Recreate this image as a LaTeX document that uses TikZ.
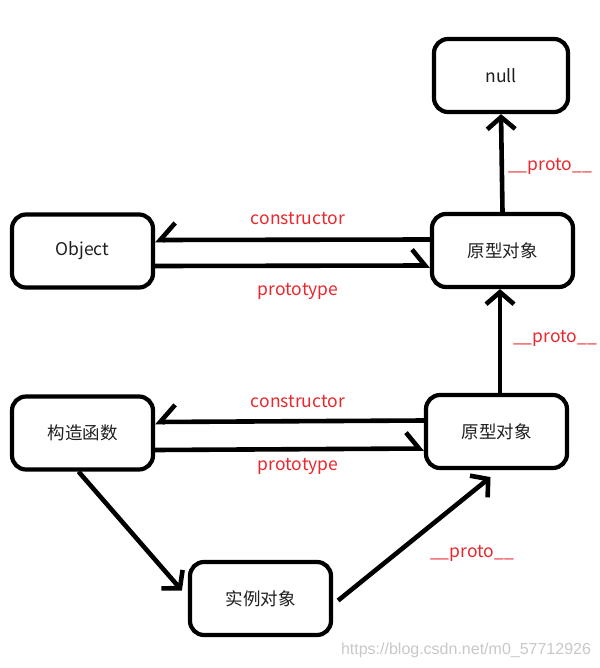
\documentclass[tikz,border=0pt]{standalone}
\usepackage{fontspec}
\usepackage{xcolor}
\usepackage{tikz}
\usetikzlibrary{arrows.meta}
\setmainfont{Noto Sans CJK SC}
\newfontfamily\wmfont{Liberation Sans}
\definecolor{myred}{RGB}{232,40,46}
\definecolor{mygray}{RGB}{200,200,200}
\definecolor{mytext}{RGB}{30,30,30}
\tikzset{
    objbox/.style={draw, line width=4.2pt, rounded corners=14pt, minimum width=141pt,
      minimum height=73pt, inner sep=0pt, text=mytext, font=\fontsize{17.5}{19}\selectfont},
    link/.style={line width=4.6pt},
    fullhead/.style={-{Straight Barb[length=12pt,width=28pt]}},
    halfup/.style={-{Straight Barb[length=15pt,width=34pt,harpoon,swap]}},
    halfdown/.style={-{Straight Barb[length=13pt,width=32pt,harpoon]}},
    lbl/.style={myred, font=\fontsize{17.5}{19}\selectfont, inner sep=0pt},
}
\begin{document}
\begin{tikzpicture}[x=1pt,y=-1pt]
  \useasboundingbox (0,0) rectangle (599,668);
  % boxes
  \node[objbox, minimum width=134pt] (null) at (501,75.5) {null};
  \node[objbox] (protoA) at (502.5,250.5) {原型对象};
  \node[objbox] (obj) at (82.5,251) {Object};
  \node[objbox] (ctor) at (82.5,433) {构造函数};
  \node[objbox] (protoB) at (496.5,431.5) {原型对象};
  \node[objbox] (inst) at (260.5,598.5) {实例对象};
  % upper pair: Object <-> prototype object
  \draw[link, halfup] ([yshift=11pt]protoA.west) -- ([yshift=11pt]obj.east);
  \draw[link, halfdown] ([yshift=-15pt]obj.east) -- ([yshift=-15pt]protoA.west);
  % lower pair: constructor <-> prototype object
  \draw[link, halfup] ([yshift=11pt]protoB.west) -- ([yshift=11pt]ctor.east);
  \draw[link, halfdown] ([yshift=-17pt]ctor.east) -- ([yshift=-17pt]protoB.west);
  % proto chain
  \draw[link, fullhead] (protoA.north) -- (null.south);
  \draw[link, fullhead] ([xshift=3.5pt]protoB.north) -- ([xshift=-2.5pt]protoA.south);
  \draw[link, fullhead] ([xshift=-4pt]ctor.south) -- ([xshift=-6pt,yshift=8pt]inst.west);
  \draw[link, fullhead] ([xshift=5pt,yshift=-2pt]inst.east) -- ([xshift=-6pt,yshift=-7pt]protoB.south);
  % LABELS
  \node[lbl] (lc1) at (298,219) {constructor};
  \node[lbl] (lp1) at (298,291) {prototype};
  \node[lbl] (lc2) at (298,402) {constructor};
  \node[lbl] (lp2) at (298,466) {prototype};
  \node[lbl] (lnull) at (550,166) {\_\_proto\_\_};
  \node[lbl] (lmid) at (555,338) {\_\_proto\_\_};
  \node[lbl] (linst) at (472,553) {\_\_proto\_\_};
  \node[mygray, font=\wmfont\fontsize{16}{18}\selectfont, inner sep=0pt] (wm) at (466,650)
    {https://blog.csdn.net/m0\_57712926};
\end{tikzpicture}
\end{document}
